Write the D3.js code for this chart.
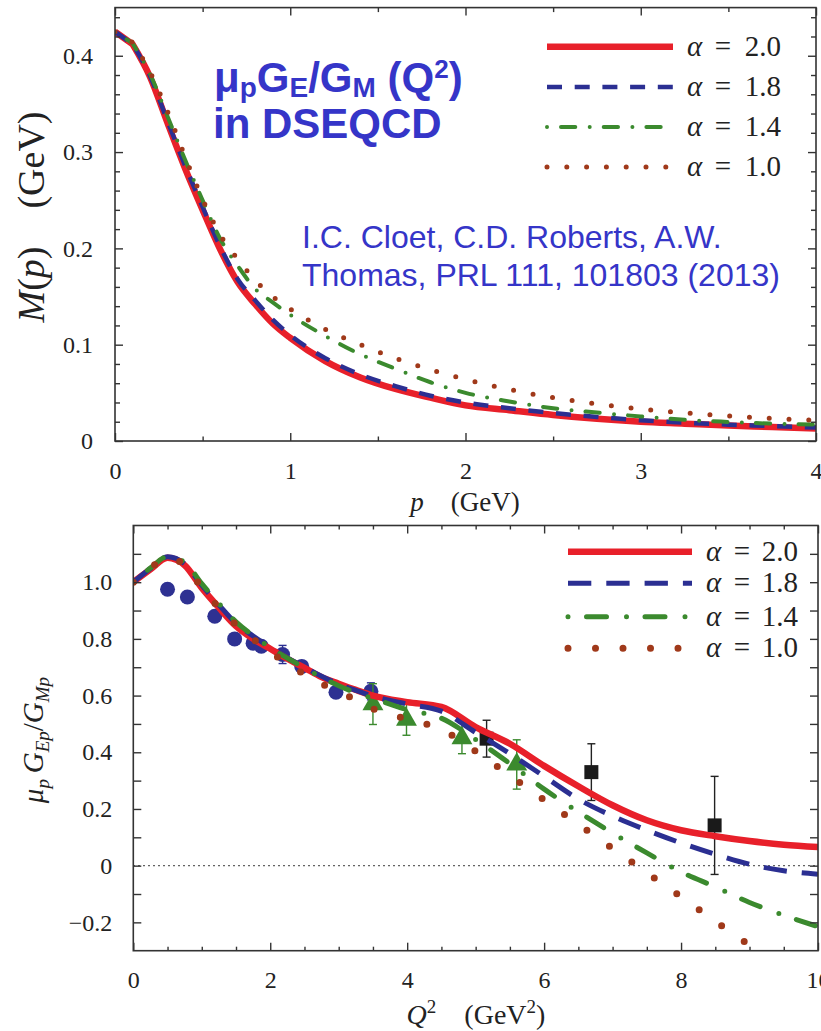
<!DOCTYPE html>
<html><head><meta charset="utf-8">
<script src="https://cdn.jsdelivr.net/npm/d3@7"></script>
<style>body{margin:0;background:#fff}svg{display:block}</style>
</head><body>
<svg id="c" width="821" height="1031"></svg>
<script>
// ---------- DATA: top panel, dressed-quark mass function M(p) ----------
const pGrid   = [0,0.1,0.2,0.3,0.4,0.5,0.6,0.7,0.8,0.9,1.0,1.2,1.4,1.6,1.8,2.0,2.25,2.5,2.75,3.0,3.25,3.5,3.75,4.0];
const massA20 = [0.425,0.412,0.378,0.330,0.283,0.240,0.199,0.165,0.142,0.122,0.107,0.083,0.066,0.054,0.045,0.037,0.032,0.027,0.023,0.020,0.018,0.016,0.0145,0.013];
const massA18 = [0.425,0.412,0.379,0.332,0.286,0.243,0.202,0.168,0.146,0.126,0.110,0.086,0.069,0.057,0.047,0.040,0.034,0.029,0.025,0.0215,0.019,0.017,0.0155,0.014];
const massA14 = [0.425,0.413,0.381,0.337,0.292,0.250,0.210,0.182,0.158,0.144,0.131,0.109,0.090,0.075,0.061,0.050,0.041,0.034,0.0295,0.0255,0.022,0.0198,0.018,0.017];
const massA10 = [0.425,0.414,0.383,0.342,0.295,0.251,0.214,0.189,0.167,0.150,0.137,0.116,0.100,0.086,0.074,0.064,0.0535,0.045,0.0385,0.0333,0.0293,0.026,0.0234,0.0215];

// ---------- DATA: bottom panel, mu_p G_E/G_M ----------
const q2Grid   = [0,0.25,0.5,0.75,1.0,1.25,1.5,1.75,2.0,2.25,2.5,2.75,3.0,3.25,3.5,4.0,4.5,5.0,5.5,6.0,6.5,7.0,7.5,8.0,8.5,9.0,9.5,10];
const ratioA20 = [1.0,1.045,1.086,1.06,0.98,0.91,0.845,0.80,0.765,0.730,0.698,0.665,0.642,0.62,0.60,0.577,0.560,0.489,0.43,0.352,0.28,0.213,0.16,0.125,0.104,0.087,0.074,0.066];
const ratioA18 = [1.0,1.048,1.09,1.065,0.99,0.92,0.855,0.81,0.77,0.733,0.700,0.668,0.64,0.618,0.598,0.57,0.545,0.47,0.395,0.315,0.235,0.175,0.125,0.08,0.04,0.005,-0.018,-0.03];
const ratioA14 = [1.0,1.05,1.09,1.07,0.995,0.925,0.86,0.812,0.77,0.732,0.698,0.664,0.635,0.61,0.59,0.55,0.52,0.445,0.36,0.27,0.19,0.115,0.045,-0.022,-0.075,-0.13,-0.175,-0.215];
const ratioA10 = [1.0,1.05,1.085,1.06,0.98,0.91,0.85,0.80,0.754,0.712,0.675,0.642,0.613,0.585,0.554,0.517,0.48,0.404,0.318,0.232,0.146,0.061,-0.025,-0.11,-0.196,-0.28,-0.36,-0.44];

const circleQ2    = [0.50,0.79,1.19,1.48,1.75,1.87,2.18,2.46,2.96,3.47];
const circleRatio = [0.975,0.948,0.880,0.800,0.785,0.774,0.745,0.703,0.612,0.615];
const circleErr   = [0,0,0,0,0,0,0.032,0,0,0.03];
const triQ2       = [3.50,3.99,4.80,5.60];
const triRatio    = [0.57,0.515,0.45,0.357];
const triErr      = [0.072,0.055,0.055,0.087];
const sqQ2        = [5.16,6.69,8.49];
const sqRatio     = [0.448,0.33,0.142];
const sqErr       = [0.065,0.10,0.173];

const alphaLabels = ["2.0","1.8","1.4","1.0"];
const topXTicks = [0,1,2,3,4];
const topYTicks = [0,0.1,0.2,0.3,0.4];
const botXTicks = [0,2,4,6,8,10];
const botYTicks = [-0.2,0,0.2,0.4,0.6,0.8,1.0];

// ---------- STYLE ----------
const RED="#e8202a", BLUE="#2b2f92", GREEN="#3b8a2e", BROWN="#a0391a", TXT="#3535c8";
const SERIF="'Liberation Serif','Times New Roman',serif";
const SANS="'Liberation Sans',Arial,sans-serif";
const svg = d3.select("#c");

const topStyles = [
  {c:RED,   w:6.5, dash:null,             cap:"butt"},
  {c:BLUE,  w:4.5, dash:"15,12.7",        cap:"butt"},
  {c:GREEN, w:4,   dash:"0,14,14.3,14.4", cap:"round"},
  {c:BROWN, w:5,   dash:"0,19.8",         cap:"round"}
];
const botStyles = [
  {c:RED,   w:6.5, dash:null,             cap:"butt"},
  {c:BLUE,  w:5,   dash:"23.3,15",        cap:"butt"},
  {c:GREEN, w:5,   dash:"0,18.5,20,20",   cap:"round"},
  {c:BROWN, w:7,   dash:"0,27.5",         cap:"round"}
];

function styleLine(sel, s){
  sel.attr("fill","none").attr("stroke",s.c).attr("stroke-width",s.w)
     .attr("stroke-linecap",s.cap).attr("stroke-linejoin","round");
  if(s.dash) sel.attr("stroke-dasharray",s.dash);
  return sel;
}

function frameAxes(g, x, y, opt){
  const [x0,x1]=x.range(), [y0,y1]=y.range();
  g.append("g").attr("transform",`translate(0,${y0})`)
    .call(d3.axisBottom(x).tickValues(opt.xMajor).tickSizeInner(-8).tickSizeOuter(0).tickPadding(opt.xPad).tickFormat(d3.format("d")));
  g.append("g").attr("transform",`translate(0,${y0})`)
    .call(d3.axisBottom(x).tickValues(opt.xMinor).tickSizeInner(-opt.xMinorLen).tickSizeOuter(0).tickFormat(""));
  g.append("g").attr("transform",`translate(0,${y1})`)
    .call(d3.axisTop(x).tickValues(opt.xMajor).tickSizeInner(-8).tickSizeOuter(0).tickFormat(""));
  g.append("g").attr("transform",`translate(0,${y1})`)
    .call(d3.axisTop(x).tickValues(opt.xMinor).tickSizeInner(-opt.xMinorLen).tickSizeOuter(0).tickFormat(""));
  g.append("g").attr("transform",`translate(${x0},0)`)
    .call(d3.axisLeft(y).tickValues(opt.yMajor).tickSizeInner(-8).tickSizeOuter(0).tickPadding(opt.yPad).tickFormat(opt.yfmt));
  g.append("g").attr("transform",`translate(${x0},0)`)
    .call(d3.axisLeft(y).tickValues(opt.yMinor).tickSizeInner(-opt.yMinorLen).tickSizeOuter(0).tickFormat(""));
  g.append("g").attr("transform",`translate(${x1},0)`)
    .call(d3.axisRight(y).tickValues(opt.yMajor).tickSizeInner(-8).tickSizeOuter(0).tickFormat(""));
  g.append("g").attr("transform",`translate(${x1},0)`)
    .call(d3.axisRight(y).tickValues(opt.yMinor).tickSizeInner(-opt.yMinorLen).tickSizeOuter(0).tickFormat(""));
  g.selectAll(".domain").remove();
  g.selectAll(".tick line").attr("stroke","#333").attr("stroke-width",1.4);
  g.selectAll(".tick text").attr("font-family",SERIF).attr("font-size",opt.fs).attr("fill","#222");
  g.append("rect").attr("x",x0).attr("y",y1).attr("width",x1-x0).attr("height",y0-y1)
    .attr("fill","none").attr("stroke","#333").attr("stroke-width",1.6);
}

function legendLines(g, x0, x1, ys, styles){
  styles.forEach((s,i)=>{
    styleLine(g.append("line").attr("x1",x0).attr("x2",x1).attr("y1",ys[i]).attr("y2",ys[i]), s);
  });
}
// pos: [alphaStart, eqCenter, numEnd]
function legendText(g, ys, fs, off, pos){
  alphaLabels.forEach((lab,i)=>{
    const base = ys[i]+off;
    const mk = (x,anchor,txt,it)=> g.append("text").attr("x",x).attr("y",base)
      .attr("text-anchor",anchor)
      .attr("font-family",SERIF).attr("font-size",fs).attr("fill","#222")
      .attr("font-style",it?"italic":"normal").text(txt);
    mk(pos[0],"start","α",true);
    mk(pos[1],"middle","=",false);
    mk(pos[2],"end",lab,false);
  });
}

// ================= TOP PANEL =================
{
  const x = d3.scaleLinear().domain([0,4]).range([115,816]);
  const y = d3.scaleLinear().domain([0,0.45]).range([441,7.6]);
  const g = svg.append("g");
  svg.append("clipPath").attr("id","clipTop").append("rect")
    .attr("x",115).attr("y",7.6).attr("width",701).attr("height",433.4);

  const series = [massA20, massA18, massA14, massA10];
  const line = d3.line().x(d=>x(d[0])).y(d=>y(d[1])).curve(d3.curveMonotoneX);
  const cg = g.append("g").attr("clip-path","url(#clipTop)");
  series.forEach((arr,i)=>{
    // straight first segment (kink at p = 0.1), smooth afterwards
    const rest = line(pGrid.slice(1).map((p,k)=>[p,arr[k+1]]));
    const d = `M${x(pGrid[0])},${y(arr[0])}L` + rest.slice(1);
    styleLine(cg.append("path").attr("d", d), topStyles[i]);
  });

  frameAxes(g, x, y, {
    xMajor: topXTicks, xMinor: [0.5,1.5,2.5,3.5], xMinorLen: 4.5,
    yMajor: topYTicks, yMinor: d3.range(0.02,0.45,0.02).filter(v=>Math.abs(v*10-Math.round(v*10))>1e-6),
    yMinorLen: 5, xPad: 21, yPad: 22, fs: 24,
    yfmt: v => v===0 ? "0" : d3.format(".1f")(v)
  });

  const ly = [46.7,87,127,167];
  legendLines(g, 547, 673, ly, topStyles);
  legendText(g, ly, 29, 9, [687, 723, 781]);

  const xl = g.append("text").attr("x",465).attr("y",511).attr("text-anchor","middle")
    .attr("font-family",SERIF).attr("font-size",27).attr("fill","#222");
  xl.append("tspan").attr("font-style","italic").text("p");
  xl.append("tspan").text("\u2002\u2002(GeV)");

  const yl = g.append("text").attr("transform","translate(44,217) rotate(-90)").attr("text-anchor","middle")
    .attr("font-family",SERIF).attr("font-size",38).attr("fill","#222");
  yl.append("tspan").attr("font-style","italic").text("M");
  yl.append("tspan").text("(");
  yl.append("tspan").attr("font-style","italic").text("p");
  yl.append("tspan").text(")\u2002\u2002(GeV)");

  // annotations
  const t1 = g.append("text").attr("x",214).attr("y",92).attr("font-family",SANS)
    .attr("font-weight","bold").attr("font-size",42).attr("fill",TXT);
  t1.append("tspan").text("μ");
  t1.append("tspan").attr("font-size",28).attr("dy",5).text("p");
  t1.append("tspan").attr("dy",-5).text("G");
  t1.append("tspan").attr("font-size",28).attr("dy",5).text("E");
  t1.append("tspan").attr("dy",-5).text("/G");
  t1.append("tspan").attr("font-size",28).attr("dy",5).text("M");
  t1.append("tspan").attr("dy",-5).text(" (Q");
  t1.append("tspan").attr("font-size",26).attr("dy",-14).text("2");
  t1.append("tspan").attr("dy",14).text(")");
  g.append("text").attr("x",213).attr("y",138).attr("font-family",SANS)
    .attr("font-weight","bold").attr("font-size",42).attr("fill",TXT).text("in DSEQCD");

  g.append("text").attr("x",302).attr("y",248).attr("font-family",SANS)
    .attr("font-size",32).attr("fill",TXT).text("I.C. Cloet, C.D. Roberts, A.W.");
  g.append("text").attr("x",302).attr("y",286).attr("font-family",SANS)
    .attr("font-size",32).attr("fill",TXT).text("Thomas, PRL 111, 101803 (2013)");
}

// ================= BOTTOM PANEL =================
{
  const x = d3.scaleLinear().domain([0,10]).range([133.3,818]);
  const y = d3.scaleLinear().domain([-0.3,1.2]).range([950.7,525.5]);
  const g = svg.append("g");
  svg.append("clipPath").attr("id","clipBot").append("rect")
    .attr("x",133.3).attr("y",525.5).attr("width",684.7).attr("height",425.2);

  g.append("line").attr("x1",x(0)).attr("x2",x(10)).attr("y1",y(0)).attr("y2",y(0))
    .attr("stroke","#222").attr("stroke-width",1.3).attr("stroke-dasharray","1.4,3.6");

  const dg = g.append("g");
  function errBar(q, v, e, col){
    if(!e) return;
    dg.append("line").attr("x1",x(q)).attr("x2",x(q)).attr("y1",y(v-e)).attr("y2",y(v+e))
      .attr("stroke",col).attr("stroke-width",1.4);
    [v-e, v+e].forEach(t=> dg.append("line").attr("x1",x(q)-4).attr("x2",x(q)+4)
      .attr("y1",y(t)).attr("y2",y(t)).attr("stroke",col).attr("stroke-width",1.4));
  }
  circleQ2.forEach((q,i)=>{
    errBar(q, circleRatio[i], circleErr[i], BLUE);
    dg.append("circle").attr("cx",x(q)).attr("cy",y(circleRatio[i])).attr("r",7.5).attr("fill","#2e3192");
  });
  triQ2.forEach((q,i)=>{
    errBar(q, triRatio[i], triErr[i], GREEN);
    dg.append("path").attr("transform",`translate(${x(q)},${y(triRatio[i])})`)
      .attr("d", d3.symbol(d3.symbolTriangle, 190)()).attr("fill",GREEN);
  });
  sqQ2.forEach((q,i)=>{
    errBar(q, sqRatio[i], sqErr[i], "#222");
    dg.append("rect").attr("x",x(q)-7).attr("y",y(sqRatio[i])-7).attr("width",14).attr("height",14).attr("fill","#1a1a1a");
  });

  const series = [ratioA20, ratioA18, ratioA14, ratioA10];
  const line = d3.line().x(d=>x(d[0])).y(d=>y(d[1])).curve(d3.curveMonotoneX);
  const cg = g.append("g").attr("clip-path","url(#clipBot)");
  series.forEach((arr,i)=>{
    styleLine(cg.append("path").attr("d", line(q2Grid.map((q,k)=>[q,arr[k]]))), botStyles[i]);
  });

  frameAxes(g, x, y, {
    xMajor: botXTicks, xMinor: d3.range(0.5,10,0.5).filter(v=>v%2!==0), xMinorLen: 4,
    yMajor: botYTicks, yMinor: [-0.1,0.1,0.3,0.5,0.7,0.9,1.1], yMinorLen: 8,
    xPad: 20, yPad: 21, fs: 24,
    yfmt: v => v===0 ? "0" : d3.format(".1f")(v).replace("-","\u2212")
  });

  const ly = [551.7,583.3,616.7,648.3];
  legendLines(g, 568, 692, ly, botStyles);
  legendText(g, ly, 29, 9, [706, 742, 798]);

  const xl = g.append("text").attr("x",476).attr("y",1024).attr("text-anchor","middle")
    .attr("font-family",SERIF).attr("font-size",28).attr("fill","#222");
  xl.append("tspan").attr("font-style","italic").text("Q");
  xl.append("tspan").attr("font-size",19).attr("dy",-11).text("2");
  xl.append("tspan").attr("dy",11).text("\u2002\u2002(GeV");
  xl.append("tspan").attr("font-size",19).attr("dy",-11).text("2");
  xl.append("tspan").attr("dy",11).text(")");

  const yl = g.append("text").attr("transform","translate(43,740) rotate(-90)").attr("text-anchor","middle")
    .attr("font-family",SERIF).attr("font-size",29).attr("fill","#222");
  yl.append("tspan").attr("font-style","italic").text("μ");
  yl.append("tspan").attr("font-style","italic").attr("font-size",19).attr("dy",6).text("p");
  yl.append("tspan").attr("font-style","italic").attr("dy",-6).text("\u2009G");
  yl.append("tspan").attr("font-style","italic").attr("font-size",19).attr("dy",6).text("Ep");
  yl.append("tspan").attr("dy",-6).text("/");
  yl.append("tspan").attr("font-style","italic").text("G");
  yl.append("tspan").attr("font-style","italic").attr("font-size",19).attr("dy",6).text("Mp");
}
</script>
</body></html>
